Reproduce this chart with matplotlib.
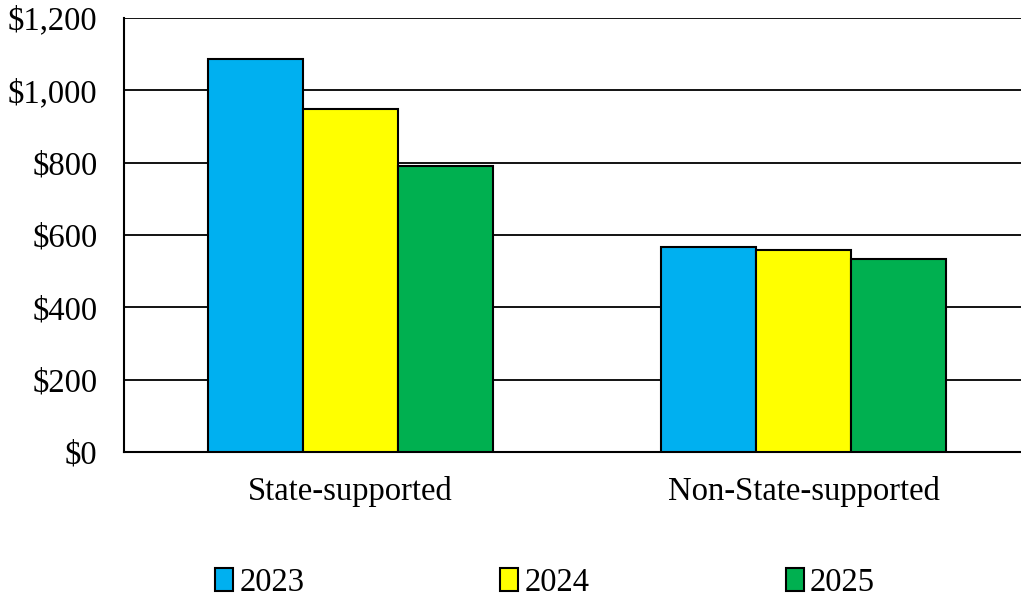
import numpy as np
import matplotlib
matplotlib.use("Agg")
import matplotlib.pyplot as plt
from matplotlib.patches import Patch
from matplotlib.ticker import FuncFormatter

categories = ["State-supported", "Non-State-supported"]
years = ["2023", "2024", "2025"]
values_2023 = [1086, 566]
values_2024 = [949, 558]
values_2025 = [792, 533]
colors = ["#00B0F0", "#FFFF00", "#00B050"]

plt.rcParams["font.family"] = ["Liberation Serif", "DejaVu Serif"]
FS = 23.5

fig = plt.figure(figsize=(10.21, 6), dpi=100)
ax = fig.add_axes([124 / 1021, 1 - 452 / 600, 1 - 124 / 1021, (452 - 18) / 600])

x = np.arange(len(categories))
width = 95 / 453
series = [values_2023, values_2024, values_2025]
for i, (vals, col) in enumerate(zip(series, colors)):
    ax.bar(x + (i - 1) * width, vals, width, color=col, edgecolor="black",
           linewidth=1.5, zorder=3)

ax.set_xlim(-0.5, -0.5 + 897 / 453)
ax.set_ylim(0, 1200)
ax.set_yticks(range(0, 1201, 200))
ax.yaxis.set_major_formatter(FuncFormatter(lambda v, p: f"${v:,.0f}"))
ax.set_xticks(x)
ax.set_xticklabels(categories)
ax.grid(axis="y", color="black", linewidth=1.3, zorder=0)
ax.tick_params(axis="y", length=0, pad=19, labelsize=FS)
ax.tick_params(axis="x", length=0, pad=17, labelsize=FS)
for s in ["top", "right"]:
    ax.spines[s].set_visible(False)
for s in ["left", "bottom"]:
    ax.spines[s].set_color("black")
    ax.spines[s].set_linewidth(1.5)

handles = [Patch(facecolor=c, edgecolor="black", linewidth=1.5) for c in colors]
fig.legend(handles, years, loc="center", bbox_to_anchor=(545 / 1021, 1 - 583 / 600),
           ncol=3, frameon=False, fontsize=FS, handlelength=0.55, handleheight=0.7,
           handletextpad=0.2, columnspacing=6.0, borderaxespad=0)

fig.savefig("out.png", dpi=100)
